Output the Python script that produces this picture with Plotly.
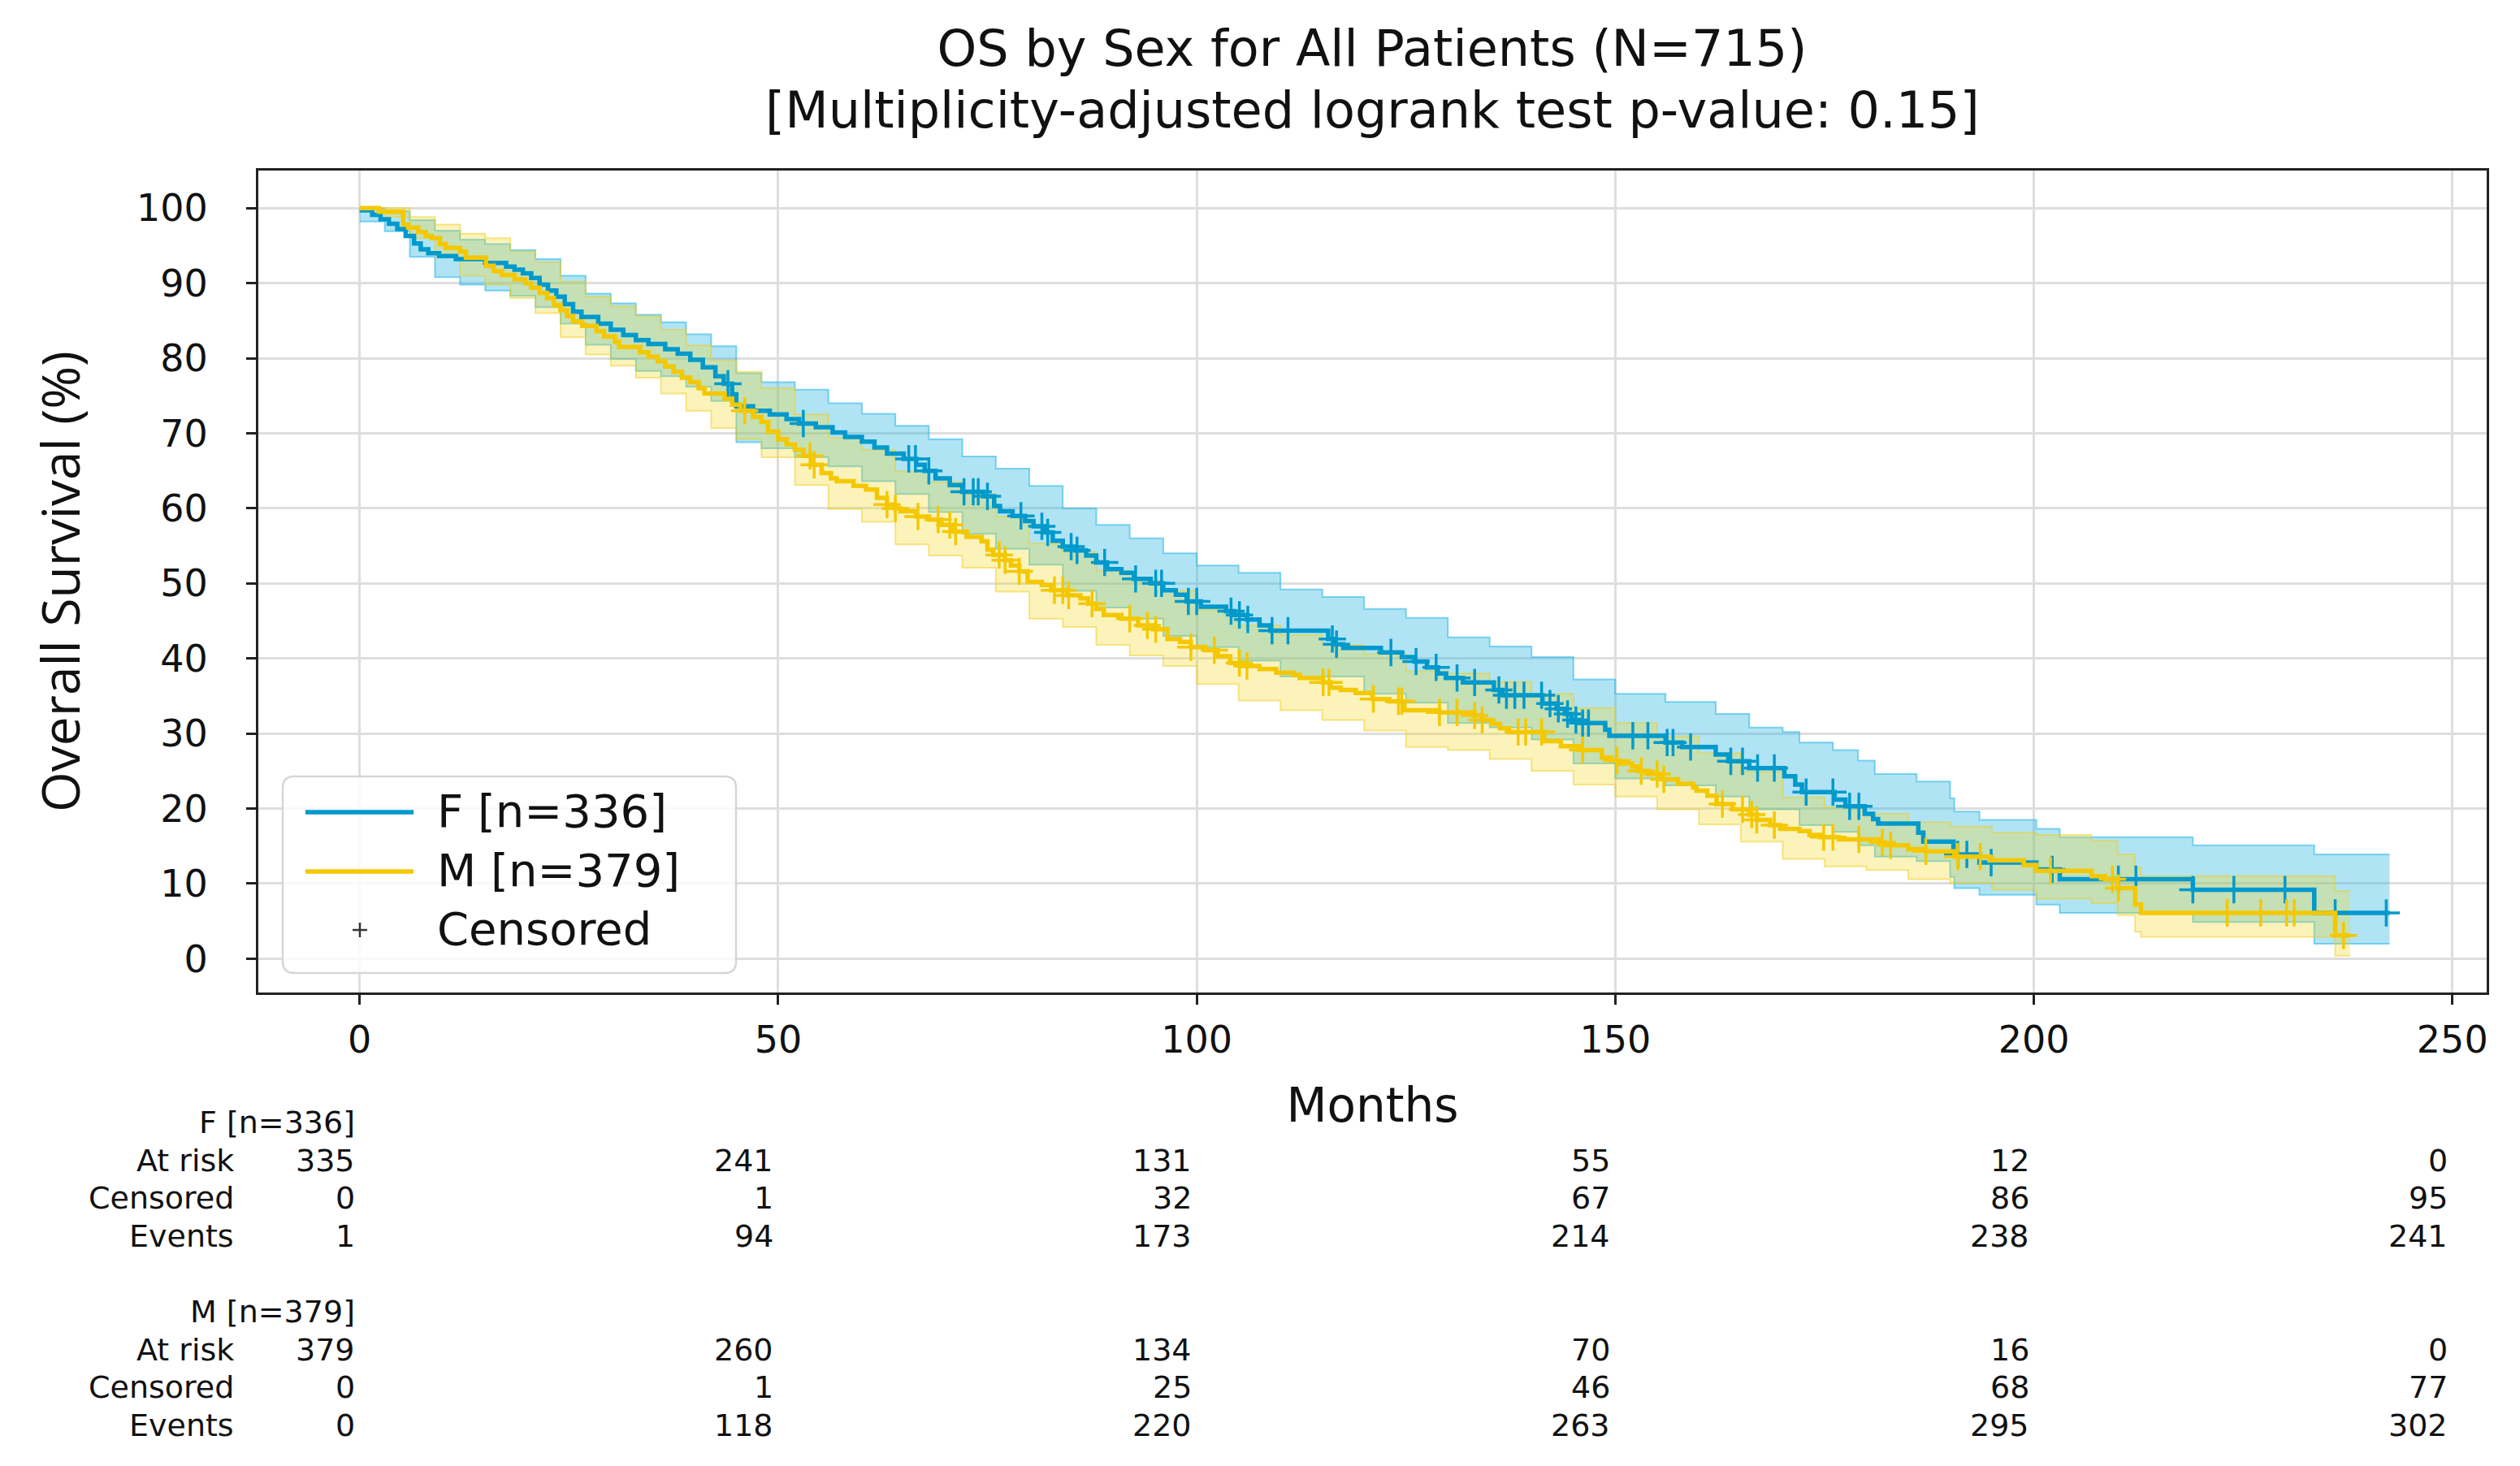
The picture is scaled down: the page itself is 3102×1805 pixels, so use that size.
import numpy as np
import plotly.graph_objects as go

# ---------------- data ----------------
F_t = [0, 1.5, 2.5, 3.5, 4.5, 5.5, 6.5, 7.3, 8.2, 9.5, 11.5, 15.0, 17.5, 18.5, 19.5, 20.5, 21.5, 22.5, 23.5, 24.5,
       25.5, 26.5, 28.5, 30.0, 31.5, 33.0, 34.5, 36.5, 38.0, 39.5, 41.0, 42.5, 43.5, 44.5, 45.0, 47.0, 49.0, 51.0,
       52.5, 54.5, 56.5, 58.0, 60.0, 61.5, 63.0, 65.0, 66.5, 67.5, 68.8, 70.5, 72.0, 74.5, 75.8, 76.5, 78.0, 79.5,
       80.5, 81.8, 82.8, 84.0, 85.5, 86.8, 88.0, 89.3, 91.0, 92.5, 94.5, 96.0, 97.5, 98.8, 100.5, 103.5, 104.5,
       106.0, 107.5, 108.8, 115.7, 116.5, 117.5, 122.0, 124.5, 126.0, 127.5, 128.8, 129.8, 131.8, 135.5, 136.5,
       141.3, 143.0, 144.0, 144.8, 145.7, 148.8, 149.3, 156.0, 158.0, 162.0, 163.5, 166.0, 170.2, 171.5, 172.3,
       176.2, 177.5, 179.8, 180.8, 181.4, 186.2, 186.8, 190.4, 193.5, 200.3, 203.1, 219.0, 233.5]
F_s = [99.7, 99.1, 98.5, 97.9, 97.2, 96.3, 95.3, 94.5, 94.0, 93.6, 93.2, 92.7, 92.2, 91.8, 91.3, 90.7, 89.8, 89.0,
       88.2, 87.2, 86.2, 85.5, 84.6, 83.8, 83.1, 82.4, 81.9, 81.2, 80.6, 79.8, 78.8, 77.6, 76.6, 75.2, 73.6, 73.0,
       72.5, 71.9, 71.3, 70.8, 70.1, 69.5, 68.9, 68.1, 67.3, 66.6, 65.8, 65.0, 64.0, 63.1, 62.2, 61.6, 60.3, 59.6,
       59.0, 58.3, 57.6, 56.8, 55.7, 54.9, 54.4, 53.7, 52.8, 51.9, 51.4, 50.6, 50.0, 49.1, 48.5, 47.6, 46.9, 46.3,
       45.8, 45.2, 44.4, 43.7, 42.6, 41.9, 41.4, 40.8, 40.2, 39.6, 38.8, 38.0, 37.4, 36.8, 35.8, 35.1, 34.0, 33.3,
       32.6, 31.8, 31.4, 30.5, 29.7, 28.8, 28.2, 27.2, 26.3, 25.4, 24.3, 23.2, 22.2, 21.2, 20.3, 19.3, 18.6, 18.0,
       16.8, 15.6, 13.9, 12.8, 11.9, 10.6, 9.2, 6.1]
F_END = 242.5

M_t = [0, 2.3, 5.2, 5.8, 7.0, 7.9, 8.6, 9.6, 10.3, 12.0, 12.7, 15.1, 16.0, 17.0, 18.5, 19.8, 20.5, 21.5, 22.4, 23.2,
       24.0, 24.8, 25.5, 26.6, 28.3, 29.2, 30.5, 31.0, 33.5, 34.5, 35.6, 36.5, 37.5, 38.5, 39.5, 40.5, 41.2, 43.6,
       44.5, 45.5, 47.0, 48.0, 48.8, 50.0, 51.0, 52.0, 53.0, 54.0, 55.2, 56.3, 57.0, 59.0, 60.5, 61.8, 63.0, 63.9,
       64.6, 66.5, 68.0, 69.5, 70.8, 72.5, 74.3, 75.0, 75.7, 77.1, 77.8, 78.8, 79.8, 81.5, 82.6, 84.5, 86.1, 87.0,
       88.0, 88.9, 91.0, 93.0, 94.8, 96.5, 98.0, 99.3, 101.0, 102.5, 104.0, 105.5, 107.5, 109.5, 111.6, 112.3,
       115.1, 116.0, 117.2, 119.0, 121.0, 123.0, 124.8, 129.0, 133.2, 134.0, 135.2, 136.2, 137.3, 141.5, 143.5,
       145.7, 148.4, 149.5, 150.5, 152.0, 152.7, 154.0, 155.5, 157.5, 159.3, 159.7, 161.0, 162.1, 164.0, 166.0,
       166.9, 168.5, 169.7, 172.0, 173.2, 174.5, 176.7, 181.5, 182.2, 185.0, 187.1, 190.5, 194.7, 198.8, 200.3,
       206.9, 208.5, 210.0, 212.1, 212.8, 236.0]
M_s = [100, 99.5, 97.8, 97.4, 96.8, 96.3, 96.0, 95.2, 94.7, 94.2, 93.4, 92.3, 91.6, 91.1, 90.5, 90.0, 89.4, 88.7,
       88.0, 87.1, 86.4, 85.6, 84.9, 84.3, 83.6, 82.9, 82.2, 81.5, 80.8, 80.2, 79.6, 78.9, 78.2, 77.4, 76.8, 76.0,
       75.3, 74.6, 73.8, 73.0, 72.2, 71.5, 70.2, 69.2, 68.5, 67.8, 67.0, 65.8, 64.7, 64.0, 63.6, 63.0, 62.5, 61.4,
       60.5, 60.0, 59.6, 58.9, 58.5, 57.8, 56.9, 56.2, 55.6, 54.5, 53.8, 53.1, 52.4, 51.6, 50.2, 49.8, 49.1, 48.4,
       48.0, 47.3, 46.6, 45.8, 45.3, 44.4, 43.9, 42.6, 42.2, 41.5, 41.1, 40.3, 39.4, 39.0, 38.6, 38.1, 37.8, 37.4,
       36.8, 36.1, 35.8, 35.4, 34.6, 34.3, 33.1, 32.8, 32.4, 31.8, 31.3, 30.7, 30.2, 29.0, 28.3, 27.8, 26.8, 26.4,
       26.0, 25.6, 25.0, 24.6, 23.9, 23.3, 22.8, 22.4, 21.7, 20.6, 19.9, 19.2, 18.5, 17.8, 17.3, 17.0, 16.5, 16.2,
       15.9, 15.5, 15.1, 14.6, 14.3, 13.6, 13.1, 12.5, 11.7, 11.0, 10.6, 9.4, 7.2, 6.1, 3.1]
M_END = 237.8

F_ci_t = [0, 3, 6, 9, 12, 15, 18, 21, 24, 27, 30, 33, 36, 39, 42, 45, 48, 52, 56, 60, 64, 68, 72, 76, 80, 84, 88,
          92, 96, 100, 105, 110, 115, 120, 125, 130, 135, 140, 145, 150, 156, 162, 166, 170, 172, 176, 179, 181,
          186, 190, 190.5, 193.5, 200.3, 203.1, 219, 233.5]
F_ci_hi = [100, 99.6, 98.4, 97.0, 95.8, 95.2, 94.4, 93.2, 91.0, 88.6, 87.3, 85.8, 84.8, 83.2, 81.6, 78.0, 76.8,
           75.8, 74.0, 72.6, 71.0, 69.2, 66.9, 65.3, 63.0, 60.0, 57.8, 56.0, 54.0, 52.4, 51.4, 49.2, 48.2, 46.6,
           45.4, 42.8, 41.6, 40.2, 37.2, 35.3, 34.2, 32.6, 30.8, 30.2, 28.8, 27.8, 26.4, 24.6, 23.6, 21.4, 19.6,
           18.5, 17.3, 16.2, 15.1, 13.9]
F_ci_lo = [98.2, 96.9, 93.5, 90.8, 89.8, 89.0, 88.3, 86.8, 84.6, 81.8, 79.9, 78.3, 77.6, 76.2, 74.3, 68.8, 68.0,
           66.8, 65.6, 63.6, 61.9, 59.5, 56.6, 54.6, 52.5, 49.0, 46.8, 45.3, 43.0, 41.5, 39.7, 37.6, 37.6, 35.3,
           34.1, 31.4, 30.8, 29.2, 26.0, 24.0, 23.1, 21.6, 19.9, 19.9, 17.8, 16.9, 15.1, 13.6, 13.0, 10.9, 9.4,
           8.5, 7.2, 6.1, 4.9, 2.0]

M_ci_t = [0, 3, 6, 9, 12, 15, 18, 21, 24, 27, 30, 33, 36, 39, 42, 45, 48, 52, 56, 60, 64, 68, 72, 76, 80, 84, 88,
          92, 96, 100, 105, 110, 115, 120, 125, 130, 135, 140, 145, 150, 155, 160, 165, 170, 175, 180, 185, 190,
          195, 200.3, 206.9, 210, 212.1, 212.8, 236]
M_ci_hi = [100, 100, 98.8, 97.8, 96.6, 96.0, 94.2, 92.8, 90.2, 88.2, 86.9, 85.6, 83.8, 81.7, 79.7, 78.2, 76.0,
           72.5, 69.4, 67.8, 64.9, 63.5, 61.9, 58.9, 55.3, 54.2, 51.7, 50.4, 49.0, 46.5, 44.4, 43.1, 41.8, 40.6,
           38.3, 38.0, 36.9, 35.3, 33.4, 31.4, 29.6, 27.4, 24.9, 21.5, 20.2, 19.3, 18.2, 17.6, 16.8, 16.5, 15.7,
           13.9, 12.2, 11.0, 9.0]
M_ci_lo = [100, 98.8, 96.0, 93.6, 91.0, 89.8, 88.0, 86.0, 82.8, 80.5, 79.0, 77.4, 75.3, 73.0, 70.7, 69.2, 66.8,
           63.1, 59.9, 58.2, 55.2, 53.7, 52.1, 48.9, 45.3, 44.2, 41.8, 40.4, 39.0, 36.6, 34.4, 33.1, 31.8, 30.4,
           28.2, 27.8, 26.6, 25.0, 23.2, 21.6, 19.9, 17.9, 15.6, 13.3, 12.3, 11.8, 10.6, 10.1, 9.2, 8.0, 7.4,
           5.8, 3.6, 2.9, 0.4]

F_cens = [44.0, 53.0, 65.6, 66.4, 68.0, 72.2, 73.3, 73.9, 75.0, 79.0, 81.5, 82.2, 85.0, 85.7, 89.0, 92.7, 95.1,
          95.8, 99.0, 100.0, 104.1, 105.1, 106.1, 109.0, 110.9, 116.2, 116.7, 123.2, 126.2, 128.6, 131.1, 133.2,
          136.1, 137.0, 138.0, 139.1, 141.2, 142.2, 143.2, 144.3, 145.3, 146.1, 146.8, 152.1, 153.9, 156.2, 156.9,
          159.0, 163.8, 165.2, 167.0, 169.0, 172.8, 176.0, 178.0, 179.1, 190.9, 192.0, 194.9, 202.2, 210.1, 212.2,
          219.0, 223.9, 230.0, 236.0, 242.1]
M_cens = [46.0, 53.8, 54.3, 63.0, 64.0, 66.7, 69.1, 70.5, 71.2, 76.4, 77.1, 78.8, 83.0, 84.0, 84.7, 87.5, 92.0,
          94.1, 95.1, 99.3, 102.1, 105.1, 106.0, 115.1, 115.8, 121.1, 124.1, 124.5, 129.0, 131.1, 133.2, 134.1,
          138.4, 139.3, 141.2, 146.1, 150.2, 153.1, 155.0, 155.8, 162.8, 165.2, 166.3, 166.9, 169.0, 174.9, 176.0,
          179.1, 181.9, 182.9, 187.1, 190.9, 193.6, 202.0, 209.4, 210.1, 223.1, 227.1, 230.2, 231.1, 237.0]

TABLE_TIMES = [0, 50, 100, 150, 200, 250]
F_at_risk = [335, 241, 131, 55, 12, 0]
F_censored = [0, 1, 32, 67, 86, 95]
F_events = [1, 94, 173, 214, 238, 241]
M_at_risk = [379, 260, 134, 70, 16, 0]
M_censored = [0, 1, 25, 46, 68, 77]
M_events = [0, 118, 220, 263, 295, 302]

GROUPS = ["F [n=336]", "M [n=379]"]
ROW_LABELS = ["At risk", "Censored", "Events"]
TITLE_1 = "OS by Sex for All Patients (N=715)"
TITLE_2 = "[Multiplicity-adjusted logrank test p-value: 0.15]"

# ---------------- styling ----------------
W, H = 3102, 1805
OFF = 8                                    # page body margin of the browser
RL, RR, RT, RB = 318, 3061, 210, 1222      # plot-area box in the reference's pixels
PL, PR, PT, PB = RL - OFF, RR - OFF, RT - OFF, RB - OFF
BLUE, YELLOW = "#0099CC", "#F4C800"
BLUE_FILL, YELLOW_FILL = "rgba(35,180,228,0.36)", "rgba(245,215,30,0.30)"
BLUE_EDGE, YELLOW_EDGE = "rgba(35,180,228,0.55)", "rgba(240,205,30,0.50)"
FONT = "DejaVu Sans"
TXT = "#111"


def px_x(x):   # reference pixel -> paper fraction
    return (x - RL) / (RR - RL)


def px_y(y):
    return (RB - y) / (RB - RT)


def ext(t, v, end):
    return list(t) + [end], list(v) + [v[-1]]


def step_at(t, v, q):
    idx = np.searchsorted(np.asarray(t), np.asarray(q), side="right") - 1
    return np.asarray(v)[idx]


fig = go.Figure()

for ci_t, lo, hi, end, fill, edge in [(F_ci_t, F_ci_lo, F_ci_hi, F_END, BLUE_FILL, BLUE_EDGE),
                                      (M_ci_t, M_ci_lo, M_ci_hi, M_END, YELLOW_FILL, YELLOW_EDGE)]:
    tx, ly = ext(ci_t, lo, end)
    _, uy = ext(ci_t, hi, end)
    fig.add_trace(go.Scatter(x=tx, y=ly, mode="lines", line=dict(color=edge, width=2, shape="hv"),
                             showlegend=False, hoverinfo="skip"))
    fig.add_trace(go.Scatter(x=tx, y=uy, mode="lines", line=dict(color=edge, width=2, shape="hv"),
                             fill="tonexty", fillcolor=fill, showlegend=False, hoverinfo="skip"))

for t, s, end, cens, col, name in [(F_t, F_s, F_END, F_cens, BLUE, GROUPS[0]),
                                   (M_t, M_s, M_END, M_cens, YELLOW, GROUPS[1])]:
    tx, sy = ext(t, s, end)
    fig.add_trace(go.Scatter(x=tx, y=sy, mode="lines", name=name,
                             line=dict(color=col, width=5.5, shape="hv"), showlegend=False))
    fig.add_trace(go.Scatter(x=cens, y=step_at(t, s, cens), mode="markers", showlegend=False,
                             marker=dict(symbol="cross-thin", size=24, line=dict(color=col, width=3.5))))

# ---------------- custom legend ----------------
bx0, bx1, by0, by1 = 348, 906, 956, 1198
r = 14
path = (f"M {px_x(bx0 + r)} {px_y(by0)} L {px_x(bx1 - r)} {px_y(by0)} "
        f"Q {px_x(bx1)} {px_y(by0)} {px_x(bx1)} {px_y(by0 + r)} L {px_x(bx1)} {px_y(by1 - r)} "
        f"Q {px_x(bx1)} {px_y(by1)} {px_x(bx1 - r)} {px_y(by1)} L {px_x(bx0 + r)} {px_y(by1)} "
        f"Q {px_x(bx0)} {px_y(by1)} {px_x(bx0)} {px_y(by1 - r)} L {px_x(bx0)} {px_y(by0 + r)} "
        f"Q {px_x(bx0)} {px_y(by0)} {px_x(bx0 + r)} {px_y(by0)} Z")
shapes = [dict(type="path", xref="paper", yref="paper", path=path,
               fillcolor="rgba(255,255,255,0.8)", line=dict(color="#d6d6d6", width=2.5), layer="above")]
annotations = []
LFONT = dict(family=FONT, size=56, color=TXT)
leg_rows = [(1000, BLUE, GROUPS[0]), (1073, YELLOW, GROUPS[1])]
for yy, col, txt in leg_rows:
    shapes.append(dict(type="line", xref="paper", yref="paper", x0=px_x(376), x1=px_x(509),
                       y0=px_y(yy), y1=px_y(yy), line=dict(color=col, width=5.5), layer="above"))
    annotations.append(dict(x=px_x(536), y=px_y(yy - 2), xref="paper", yref="paper", text=txt,
                            xanchor="left", yanchor="middle", showarrow=False, font=LFONT))
cx, cy = 443, 1145
shapes.append(dict(type="line", xref="paper", yref="paper", x0=px_x(cx - 9), x1=px_x(cx + 9),
                   y0=px_y(cy), y1=px_y(cy), line=dict(color="#333", width=2.5), layer="above"))
shapes.append(dict(type="line", xref="paper", yref="paper", x0=px_x(cx), x1=px_x(cx),
                   y0=px_y(cy - 9), y1=px_y(cy + 9), line=dict(color="#333", width=2.5), layer="above"))
annotations.append(dict(x=px_x(536), y=px_y(cy - 2), xref="paper", yref="paper", text="Censored",
                        xanchor="left", yanchor="middle", showarrow=False, font=LFONT))

# ---------------- title line 2 ----------------
TITLE_SIZE = 62
annotations.append(dict(x=px_x(1689), y=px_y(135), xref="paper", yref="paper", text=TITLE_2,
                        xanchor="center", yanchor="middle", showarrow=False,
                        font=dict(family=FONT, size=TITLE_SIZE, color=TXT)))

# ---------------- at-risk table ----------------
TFONT = dict(family=FONT, size=38, color=TXT)
blocks = [(1382, GROUPS[0], [F_at_risk, F_censored, F_events]),
          (1615, GROUPS[1], [M_at_risk, M_censored, M_events])]
for y0, gname, rows in blocks:
    annotations.append(dict(x=0, y=px_y(y0), xref="x", yref="paper", text=gname, xanchor="right",
                            yanchor="middle", showarrow=False, xshift=-4, font=TFONT))
    for i, (lab, vals) in enumerate(zip(ROW_LABELS, rows)):
        yy = px_y(y0 + 46.7 * (i + 1))
        annotations.append(dict(x=px_x(290), y=yy, xref="paper", yref="paper", text=lab,
                                xanchor="right", yanchor="middle", showarrow=False, font=TFONT))
        for tt, v in zip(TABLE_TIMES, vals):
            annotations.append(dict(x=tt, y=yy, xref="x", yref="paper", text=str(v), xanchor="right",
                                    yanchor="middle", showarrow=False, xshift=-4, font=TFONT))

axis_common = dict(showgrid=True, gridcolor="#dedede", gridwidth=2.5, zeroline=False, showline=True,
                   linecolor="#222", linewidth=3, mirror=True, ticks="outside", ticklen=12, tickwidth=3,
                   tickcolor="#222", tickfont=dict(family=FONT, size=46, color=TXT))

fig.update_layout(
    width=W, height=H, autosize=False,
    margin=dict(l=PL, r=W - PR, t=PT, b=H - PB, pad=0),
    paper_bgcolor="white", plot_bgcolor="white",
    showlegend=False,
    title=dict(text=TITLE_1, x=(1689 - OFF) / W, xanchor="center", xref="container",
               y=1 - 51 / H, yanchor="middle", yref="container",
               font=dict(family=FONT, size=TITLE_SIZE, color=TXT)),
    xaxis=dict(range=[-12.1, 254.1], tickvals=[0, 50, 100, 150, 200, 250],
               title=dict(text="Months", font=dict(family=FONT, size=58, color=TXT), standoff=35),
               ticklabelstandoff=4, **axis_common),
    yaxis=dict(range=[-4.5, 105], tickvals=list(range(0, 101, 10)),
               title=dict(text="Overall Survival (%)", font=dict(family="Open Sans", size=64, color=TXT),
                          standoff=49),
               ticklabelstandoff=38, **axis_common),
    shapes=shapes, annotations=annotations,
)

fig.write_html("out.html")
